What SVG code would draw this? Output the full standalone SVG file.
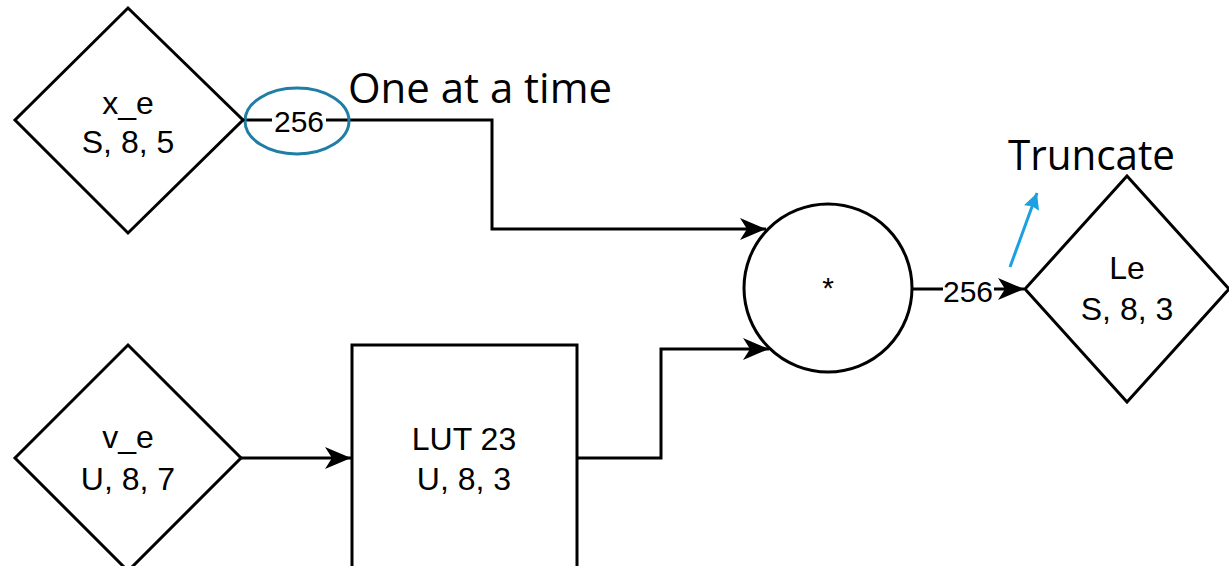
<svg xmlns="http://www.w3.org/2000/svg" width="1229" height="566" viewBox="0 0 1229 566">
<style>
.shape{fill:#fff;stroke:#000;stroke-width:3}
.lbl{font-family:"Liberation Sans",Arial,sans-serif;font-size:32px;fill:#000;text-anchor:middle}
.num{font-family:"Liberation Sans",Arial,sans-serif;font-size:30px;fill:#000;text-anchor:middle}
.note{font-family:"Open Sans","Liberation Sans",sans-serif;font-size:42px;fill:#000}
.wire{fill:none;stroke:#000;stroke-width:3}
</style>
<defs>
<marker id="arr" markerUnits="userSpaceOnUse" markerWidth="30" markerHeight="26" viewBox="-27 -13 30 26" refX="0" refY="0" orient="auto">
<path d="M0,0 L-26,-11 L-19,0 L-26,11 Z" fill="#000"/>
</marker>
<marker id="arrb" markerUnits="userSpaceOnUse" markerWidth="20" markerHeight="20" viewBox="-18 -10 20 20" refX="0" refY="0" orient="auto">
<path d="M0,0 L-16,-8 L-14,0 L-16,8 Z" fill="#1ba1e2"/>
</marker>
</defs>
<g id="connectors">
<polyline class="wire" points="243,120 492,120 492,229 766,229" marker-end="url(#arr)"/>
<polyline class="wire" points="241,458 351,458" marker-end="url(#arr)"/>
<polyline class="wire" points="577,458 661,458 661,349 769,349" marker-end="url(#arr)"/>
<polyline class="wire" points="912,289 1024,289" marker-end="url(#arr)"/>
<rect x="272" y="106" width="54" height="30" fill="#fff"/>
<text class="num" x="299" y="132">256</text>
<rect x="943" y="276" width="51" height="28" fill="#fff"/>
<text class="num" x="968" y="302">256</text>
<ellipse cx="297" cy="121" rx="52" ry="33" fill="none" stroke="#1f7ea6" stroke-width="3"/>
<line x1="1010" y1="267" x2="1037" y2="193" stroke="#1ba1e2" stroke-width="3" marker-end="url(#arrb)"/>
</g>
<g id="x_e">
<polygon class="shape" points="128,8 243,120 128,233 15,120"/>
<text class="lbl" x="128" y="114">x_e</text>
<text class="lbl" x="128" y="153">S, 8, 5</text>
</g>
<g id="v_e">
<polygon class="shape" points="128,345 241,458 128,571 15,458"/>
<text class="lbl" x="128" y="448">v_e</text>
<text class="lbl" x="128" y="490">U, 8, 7</text>
</g>
<g id="lut">
<rect class="shape" x="352" y="345" width="225" height="240"/>
<text class="lbl" x="464" y="450">LUT 23</text>
<text class="lbl" x="464" y="490">U, 8, 3</text>
</g>
<g id="mult">
<circle class="shape" cx="828" cy="288" r="84"/>
<text class="num" x="828" y="298">*</text>
</g>
<g id="le">
<polygon class="shape" points="1127,176 1229,289 1127,402 1025,289"/>
<text class="lbl" x="1127" y="279">Le</text>
<text class="lbl" x="1127" y="320">S, 8, 3</text>
</g>
<g id="notes">
<text class="note" x="348" y="103" textLength="264" lengthAdjust="spacingAndGlyphs">One at a time</text>
<text class="note" x="1008" y="170" textLength="167" lengthAdjust="spacingAndGlyphs">Truncate</text>
</g>
</svg>
